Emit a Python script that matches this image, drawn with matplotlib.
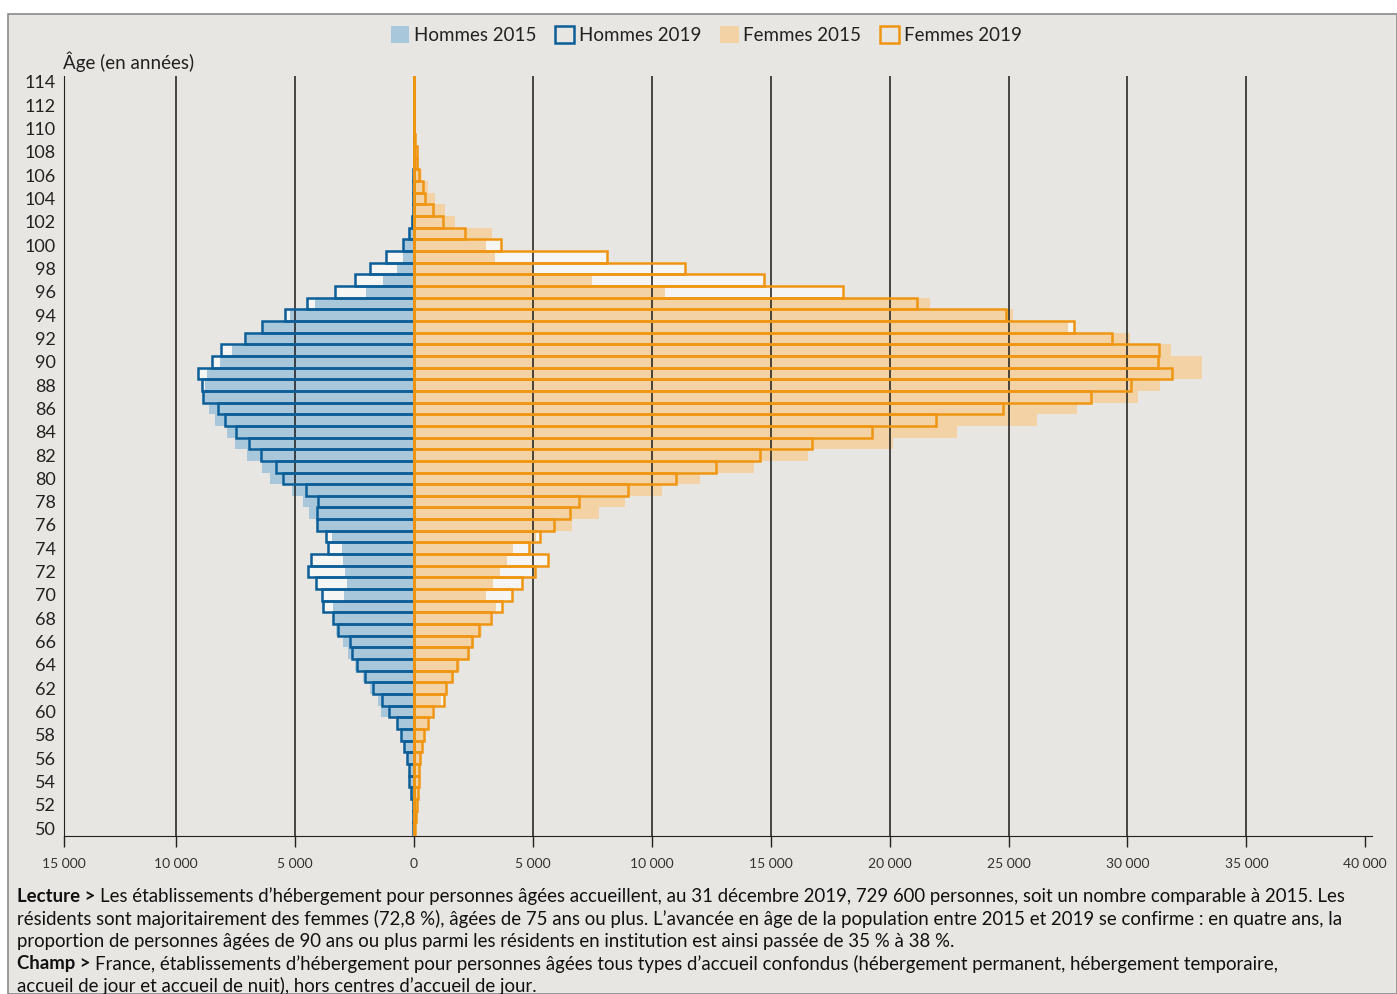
import matplotlib.pyplot as plt
from matplotlib.patches import Patch, Rectangle

# Ages 50 .. 114
ages = list(range(50, 115))

# Hommes (valeurs positives, tracées à gauche)
hommes_2019 = [42, 42, 50, 126, 210, 230, 294, 420, 547, 715,
               1051, 1346, 1724, 2061, 2397, 2607, 2691, 3196, 3406, 3826,
               3869, 4121, 4457, 4331, 3616, 3700, 4079, 4079, 4037, 4541,
               5509, 5803, 6434, 6938, 7485, 7947, 8242, 8873, 8915, 9083,
               8494, 8116, 7106, 6392, 5425, 4499, 3322, 2481, 1850, 1177,
               463, 210, 84, 50, 40, 30, 25, 20, 15, 10,
               8, 0, 0, 0, 0]
hommes_2015 = [40, 45, 60, 110, 190, 230, 280, 400, 520, 720,
               1400, 1500, 1850, 2145, 2481, 2775, 2985, 3280, 3406, 3406,
               2943, 2817, 2901, 2985, 3028, 3448, 4079, 4415, 4668, 5130,
               6055, 6392, 7022, 7527, 7863, 8368, 8620, 8873, 8789, 8705,
               8158, 7653, 7022, 6350, 5214, 4163, 2018, 1304, 715, 463,
               463, 250, 120, 60, 40, 25, 20, 15, 10, 5,
               0, 0, 0, 0, 0]

# Femmes
femmes_2019 = [50, 80, 120, 170, 210, 230, 260, 330, 420, 590,
               800, 1260, 1340, 1600, 1800, 2270, 2440, 2730, 3240, 3700,
               4120, 4540, 5090, 5630, 4840, 5300, 5890, 6560, 6940, 9000,
               11020, 12700, 14550, 16740, 19260, 21950, 24770, 28470, 30150, 31870,
               31290, 31330, 29350, 27750, 24890, 21150, 18040, 14720, 11400, 8120,
               3660, 2140, 1220, 800, 460, 380, 210, 130, 110, 60,
               20, 10, 5, 0, 0]
femmes_2015 = [40, 70, 110, 150, 190, 220, 250, 320, 410, 560,
               760, 1150, 1388, 1682, 1934, 2355, 2523, 2859, 3196, 3448,
               3028, 3322, 3616, 3911, 4163, 5130, 6644, 7779, 8873, 10428,
               12026, 14297, 16568, 20142, 22833, 26197, 27879, 30444, 31369, 33135,
               33135, 31832, 30108, 27501, 25188, 21698, 10555, 7485, 4962, 3406,
               3028, 3280, 1724, 1304, 880, 590, 340, 210, 120, 80,
               40, 0, 0, 0, 0]

x_min, x_max = -14718, 40284
x_ticks = [x_min, -10000, -5000, 0, 5000, 10000, 15000, 20000, 25000, 30000, 35000, 40000]
x_labels = ['15 000', '10 000', '5 000', '0', '5 000', '10 000', '15 000',
            '20 000', '25 000', '30 000', '35 000', '40 000']

BG = '#e7e6e2'
BLEU_CLAIR = '#a9c7db'
BLEU = '#0b5e98'
ORANGE_CLAIR = '#f3d3a6'
ORANGE = '#ef9512'
BLANC = '#f5f5f3'

plt.rcParams['font.family'] = ['Lato', 'DejaVu Sans']

fig = plt.figure(figsize=(13.97, 9.94), dpi=100)
fig.patch.set_facecolor('white')
# cadre gris du graphique
fig.patches.append(Rectangle((8 / 1397, 0), 1 - 8 / 1397, 1 - 14 / 994,
                             transform=fig.transFigure, facecolor=BG,
                             edgecolor='#8a8a8a', lw=1.2, zorder=-10))

ax = fig.add_axes([64 / 1397, 158 / 994, 1308 / 1397, 760 / 994])
ax.set_zorder(2)
ax.set_facecolor(BG)
ax.set_xlim(x_min, x_max)
ax.set_ylim(49.33, 114.5)

neg_h19 = [-v for v in hommes_2019]
neg_h15 = [-v for v in hommes_2015]

# fond clair des barres 2019
ax.barh(ages, neg_h19, height=1.0, color=BLANC, lw=0, zorder=2)
ax.barh(ages, femmes_2019, height=1.0, color=BLANC, lw=0, zorder=2)
# 2015 en aplat
ax.barh(ages, neg_h15, height=1.0, color=BLEU_CLAIR, lw=0, zorder=3)
ax.barh(ages, femmes_2015, height=1.0, color=ORANGE_CLAIR, lw=0, zorder=3)
# 2019 en contour
ax.barh(ages, neg_h19, height=1.0, facecolor='none', edgecolor=BLEU, lw=1.8, zorder=5)
ax.barh(ages, femmes_2019, height=1.0, facecolor='none', edgecolor=ORANGE, lw=1.8, zorder=6)

ax.axvline(0, color=ORANGE, lw=2, zorder=7)

# grille verticale
for xv in x_ticks[1:-1]:
    if xv != 0:
        ax.axvline(xv, color='#1a1a1a', lw=1.1, zorder=4)

ax.set_xticks(x_ticks)
ax.set_xticklabels(x_labels, fontsize=10, color='#333333')
ax.tick_params(axis='x', length=8, width=1, pad=8, color='#222222')
ax.set_yticks(range(50, 115, 2))
ax.tick_params(axis='y', length=0, pad=6, labelsize=13, labelcolor='#222222')

for s in ['top', 'right']:
    ax.spines[s].set_visible(False)
ax.spines['left'].set_color('#222222')
ax.spines['bottom'].set_color('#222222')

fig.text(63 / 1397, 1 - 62 / 994, 'Âge (en années)', fontsize=13.5,
         color='#222222', va='center', ha='left')

handles = [Patch(facecolor=BLEU_CLAIR, edgecolor='none', label='Hommes 2015'),
           Patch(facecolor='none', edgecolor=BLEU, lw=1.8, label='Hommes 2019'),
           Patch(facecolor=ORANGE_CLAIR, edgecolor='none', label='Femmes 2015'),
           Patch(facecolor='none', edgecolor=ORANGE, lw=1.8, label='Femmes 2019')]
fig.legend(handles=handles, loc='center', bbox_to_anchor=(706 / 1397, 1 - 35 / 994),
           ncol=4, frameon=False, fontsize=13.5, handlelength=1.0, handleheight=1.0,
           handletextpad=0.25, columnspacing=1.0, labelcolor='#222222')

# texte de lecture
lignes = [
    ('Lecture > ', "Les établissements d’hébergement pour personnes âgées accueillent, au 31 décembre 2019, 729 600 personnes, soit un nombre comparable à 2015. Les"),
    ('', "résidents sont majoritairement des femmes (72,8 %), âgées de 75 ans ou plus. L’avancée en âge de la population entre 2015 et 2019 se confirme : en quatre ans, la"),
    ('', "proportion de personnes âgées de 90 ans ou plus parmi les résidents en institution est ainsi passée de 35 % à 38 %."),
    ('Champ > ', "France, établissements d’hébergement pour personnes âgées tous types d’accueil confondus (hébergement permanent, hébergement temporaire,"),
    ('', "accueil de jour et accueil de nuit), hors centres d’accueil de jour."),
]
renderer = fig.canvas.get_renderer()
y0 = 896
for gras, reste in lignes:
    x = 17 / 1397
    yf = 1 - y0 / 994
    if gras:
        t = fig.text(x, yf, gras, fontsize=13.4, fontweight='bold', color='#111111', va='center')
        bb = t.get_window_extent(renderer=renderer)
        x = bb.x1 / fig.bbox.width
    fig.text(x, yf, reste, fontsize=13.4, color='#111111', va='center')
    y0 += 22.6

fig.savefig('out.png', dpi=100)
